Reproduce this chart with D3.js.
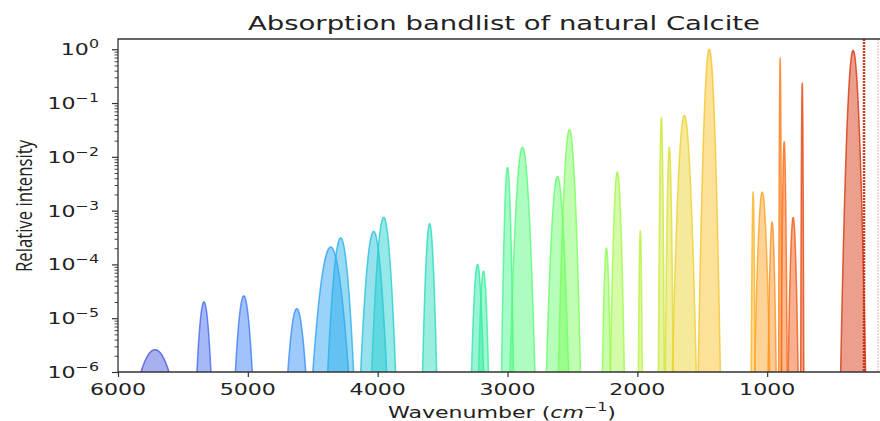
<!DOCTYPE html>
<html>
<head>
<meta charset="utf-8">
<script src="https://cdn.jsdelivr.net/npm/d3@7"></script>
<style>
  body { margin: 0; background: #fff; }
  text { font-family: "DejaVu Sans", sans-serif; fill: #222; }
</style>
</head>
<body>
<div id="chart"></div>
<script>
// band list (wavenumber cm-1, peak intensity, gaussian sigma cm-1)
const bandCenters = [5715, 5338, 5031, 4623, 4362, 4285, 4031, 3954, 3600, 3231,
                     3185, 3000, 2885, 2615, 2523, 2238, 2154, 1977, 1815, 1754,
                     1638, 1446, 1108, 1038, 962, 900, 869, 800, 730, 338];
const bandIntensity = [2.6e-6, 2.0e-5, 2.6e-5, 1.5e-5, 2.1e-4, 3.1e-4, 4.1e-4, 7.5e-4, 5.7e-4, 1.0e-4,
                       7.5e-5, 6.3e-3, 1.5e-2, 4.3e-3, 3.2e-2, 2.0e-4, 5.2e-3, 4.2e-4, 5.3e-2, 1.5e-2,
                       5.9e-2, 1.0, 2.2e-3, 2.2e-3, 6.1e-4, 0.67, 1.9e-2, 7.4e-4, 0.23, 0.95];
const bandSigma = [78, 22, 25.5, 29.6, 42, 29.5, 28.8, 25.3, 15.2, 15.2,
                   13, 11, 21.9, 20.8, 18.7, 9.5, 13, 4.3, 4.9, 7,
                   19.6, 16.2, 3.8, 14.8, 8.7, 2.3, 5.2, 10.5, 2.4, 18.3];
// bands that run past the top of the plot (drawn as dotted lines)
const lineCenters = [254, 146];

const xTicks = [6000, 5000, 4000, 3000, 2000, 1000];
const yExponents = [0, -1, -2, -3, -4, -5, -6];

const W = 880, H = 421;
const mLeft = 118, mRight = 880, mTop = 39, mBottom = 372;
const floor = 1e-6;
const sx = 1.38; // horizontal stretch of the text

const svg = d3.select("#chart").append("svg")
    .attr("width", W).attr("height", H);

const x = d3.scaleLinear().domain([6000, 131]).range([mLeft, mRight]);
const y = d3.scaleLog().domain([floor, 1.55]).range([mBottom, mTop]);

function colorAt(i) { return d3.interpolateTurbo(0.1 + 0.0262 * i); }

svg.append("clipPath").attr("id", "clip")
  .append("rect").attr("x", mLeft).attr("y", mTop)
  .attr("width", mRight - mLeft).attr("height", mBottom - mTop);

const plot = svg.append("g").attr("clip-path", "url(#clip)");

const area = d3.area()
    .x(function(d) { return x(d[0]); })
    .y0(y(floor))
    .y1(function(d) { return y(Math.max(d[1], floor)); });
const line = d3.line()
    .x(function(d) { return x(d[0]); })
    .y(function(d) { return y(Math.max(d[1], floor)); });

bandCenters.forEach(function(c, i) {
    let a = bandIntensity[i], s = bandSigma[i];
    let w = s * Math.sqrt(2 * Math.log(a / floor));
    let pts = [];
    let n = 160;
    for (let k = 0; k <= n; k++) {
        let wn = c - w + 2 * w * k / n;
        pts.push([wn, a * Math.exp(-(wn - c) * (wn - c) / (2 * s * s))]);
    }
    pts[0][1] = floor; pts[n][1] = floor;
    let col = colorAt(i);
    plot.append("path").datum(pts)
        .attr("d", area)
        .attr("fill", col)
        .attr("fill-opacity", 0.48);
    plot.append("path").datum(pts)
        .attr("d", line)
        .attr("fill", "none")
        .attr("stroke", col)
        .attr("stroke-opacity", 0.8)
        .attr("stroke-width", 1.5);
});

lineCenters.forEach(function(c, j) {
    let i = bandCenters.length + j;
    plot.append("line")
        .attr("x1", x(c)).attr("x2", x(c))
        .attr("y1", mTop).attr("y2", mBottom)
        .attr("stroke", colorAt(i))
        .attr("stroke-width", j == 0 ? 2.5 : 1)
        .attr("stroke-opacity", j == 0 ? 0.9 : 0.35)
        .attr("stroke-dasharray", "2,1");
});

// axes
const xAxis = svg.append("g")
    .attr("transform", "translate(0," + mBottom + ")")
    .call(d3.axisBottom(x).tickValues(xTicks).tickSize(5).tickFormat(""));
xAxis.select(".domain").remove();
xAxis.selectAll(".tick line").attr("stroke", "#333").attr("stroke-width", 1.2);

xTicks.forEach(function(t) {
    svg.append("text")
        .attr("transform", "translate(" + x(t) + ",395) scale(" + sx + ",1)")
        .attr("text-anchor", "middle")
        .style("font-size", "16px")
        .text(t);
});

const yAxis = svg.append("g")
    .attr("transform", "translate(" + mLeft + ",0)")
    .call(d3.axisLeft(y).tickValues(yExponents.map(function(e) { return Math.pow(10, e); }))
        .tickSize(6).tickFormat(""));
yAxis.select(".domain").remove();
yAxis.selectAll(".tick line").attr("stroke", "#333").attr("stroke-width", 1.2);

let minor = [];
yExponents.forEach(function(e) {
    for (let m = 2; m <= 9; m++) {
        let v = m * Math.pow(10, e);
        if (v <= 1.55) minor.push(v);
    }
});
const yMinor = svg.append("g")
    .attr("transform", "translate(" + mLeft + ",0)")
    .call(d3.axisLeft(y).tickValues(minor).tickSize(3.5).tickFormat(""));
yMinor.select(".domain").remove();
yMinor.selectAll(".tick line").attr("stroke", "#333").attr("stroke-width", 0.9);

yExponents.forEach(function(e) {
    let t = svg.append("text")
        .attr("transform", "translate(99," + (y(Math.pow(10, e)) + 6) + ") scale(" + sx + ",1)")
        .attr("text-anchor", "end")
        .style("font-size", "16px");
    t.append("tspan").text("10");
    t.append("tspan").attr("dy", -7).style("font-size", "11.5px")
        .text(e == 0 ? "0" : "\u2212" + (-e));
});

// spines
svg.append("path")
    .attr("d", "M" + mRight + "," + mTop + "H" + mLeft + "V" + mBottom + "H" + mRight)
    .attr("fill", "none")
    .attr("stroke", "#333")
    .attr("stroke-width", 1.3);

// title and labels
svg.append("text")
    .attr("x", 504).attr("y", 30)
    .attr("text-anchor", "middle")
    .attr("textLength", 512).attr("lengthAdjust", "spacingAndGlyphs")
    .style("font-size", "20px")
    .text("Absorption bandlist of natural Calcite");

const xl = svg.append("text")
    .attr("transform", "translate(502,418) scale(" + sx + ",1)")
    .attr("text-anchor", "middle")
    .style("font-size", "16px");
xl.append("tspan").text("Wavenumber (");
xl.append("tspan").style("font-style", "italic").text("cm");
xl.append("tspan").attr("dy", -7).style("font-size", "11.5px").text("\u22121");
xl.append("tspan").attr("dy", 7).text(")");

svg.append("text")
    .attr("transform", "translate(32,206) rotate(-90) scale(1," + sx + ")")
    .attr("text-anchor", "middle")
    .attr("textLength", 132).attr("lengthAdjust", "spacingAndGlyphs")
    .style("font-family", "'Open Sans', sans-serif")
    .style("font-size", "16px")
    .text("Relative intensity");
</script>
</body>
</html>
